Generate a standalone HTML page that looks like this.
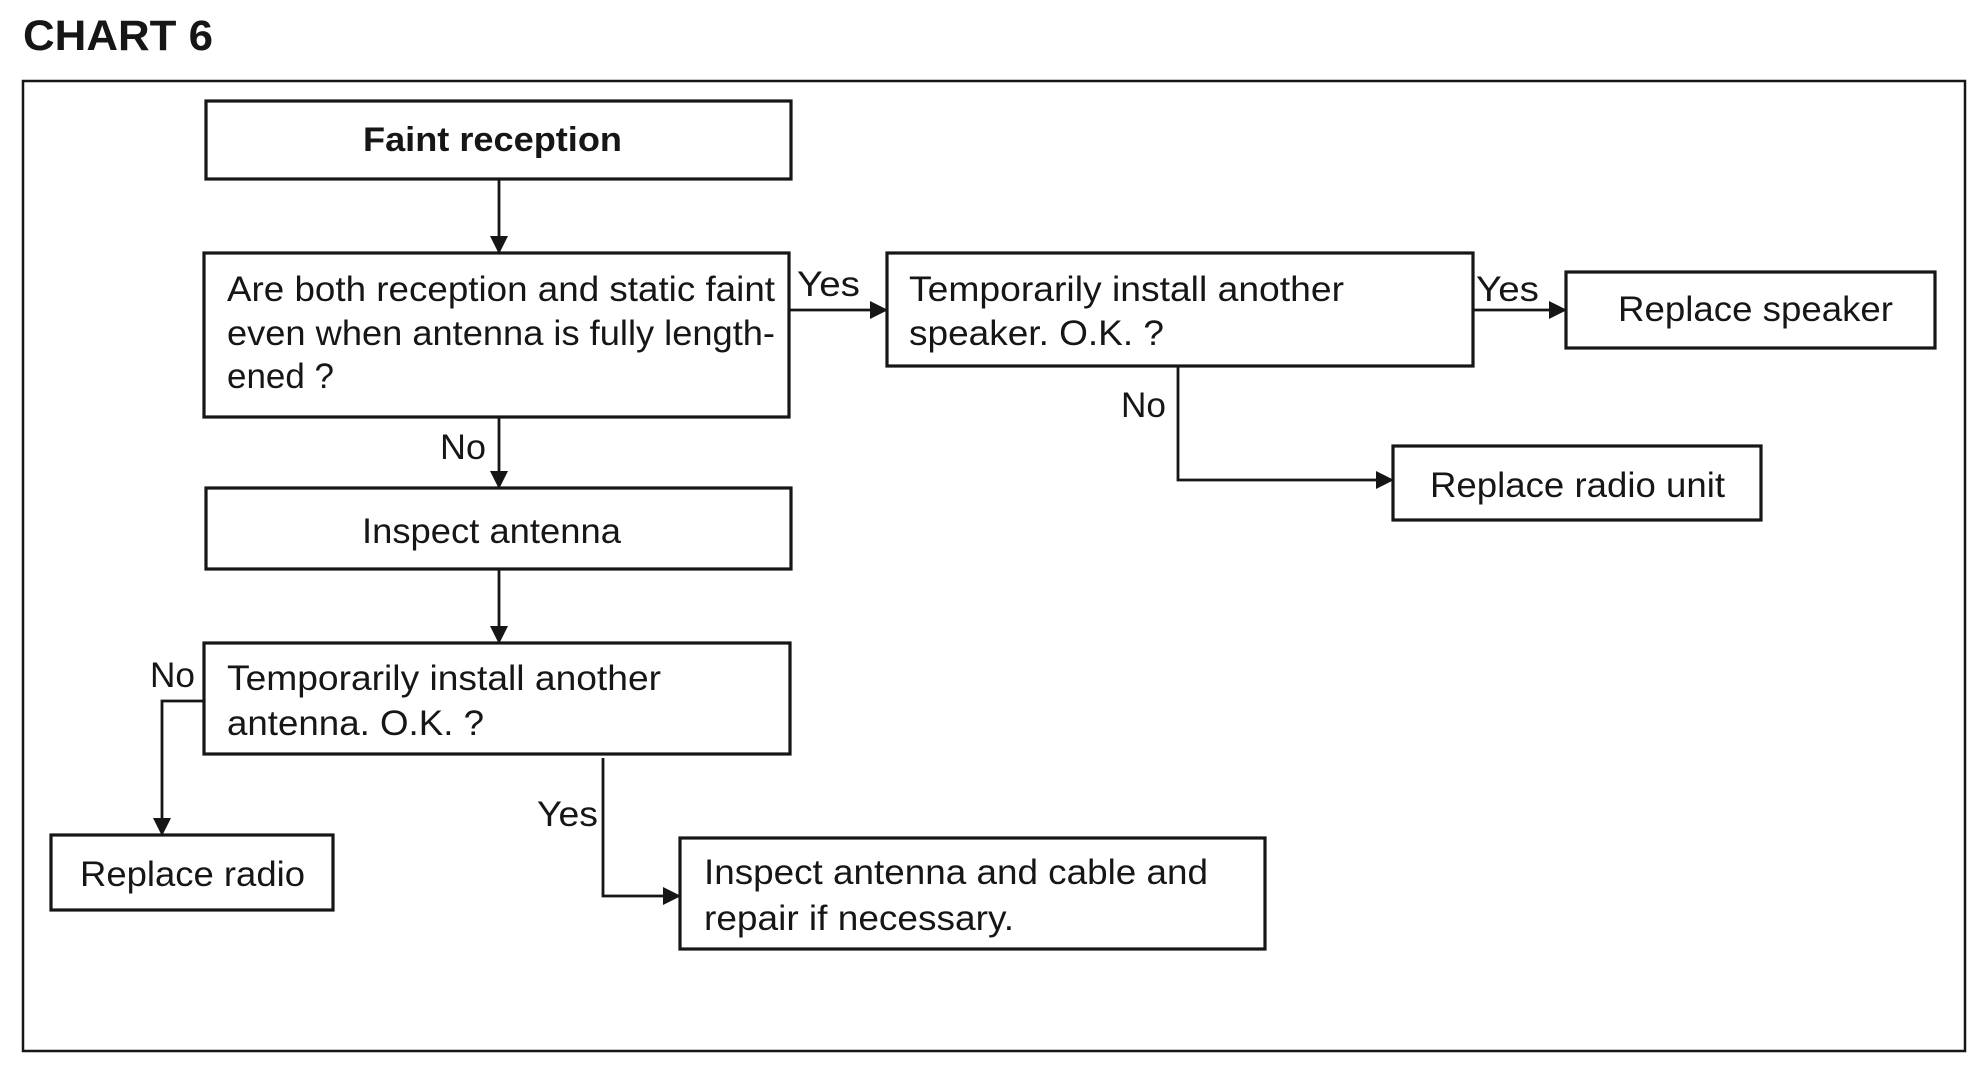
<!DOCTYPE html>
<html><head><meta charset="utf-8"><style>
html,body{margin:0;padding:0;background:#fff;width:1980px;height:1068px;overflow:hidden}
svg{display:block}
text{font-family:"Liberation Sans",Arial,sans-serif;fill:#161616;font-size:35px}
</style></head><body>
<svg width="1980" height="1068" viewBox="0 0 1980 1068" xmlns="http://www.w3.org/2000/svg">
<defs>
<marker id="b" markerWidth="18" markerHeight="18" refX="17" refY="9" orient="auto" markerUnits="userSpaceOnUse"><path d="M0,0 L18,9 L0,18 z" fill="#161616"/></marker></defs>
<text x="23" y="50" style="font-size:43px;font-weight:bold" textLength="190" lengthAdjust="spacingAndGlyphs">CHART 6</text>
<rect x="23" y="81" width="1942" height="970" fill="none" stroke="#161616" stroke-width="2.5"/>
<g fill="none" stroke="#161616" stroke-width="3.2">
<rect x="206" y="101" width="585" height="78"/>
<rect x="204" y="253" width="585" height="164"/>
<rect x="887" y="253" width="586" height="113"/>
<rect x="1566" y="272" width="369" height="76"/>
<rect x="1393" y="446" width="368" height="74"/>
<rect x="206" y="488" width="585" height="81"/>
<rect x="204" y="643" width="586" height="111"/>
<rect x="51" y="835" width="282" height="75"/>
<rect x="680" y="838" width="585" height="111"/>
</g>
<g fill="none" stroke="#161616" stroke-width="2.8" marker-end="url(#b)">
<line x1="499" y1="179" x2="499" y2="253"/>
<line x1="499" y1="417" x2="499" y2="488"/>
<line x1="499" y1="569" x2="499" y2="643"/>
<line x1="789" y1="310" x2="887" y2="310"/>
<line x1="1473" y1="310" x2="1566" y2="310"/>
<polyline points="1178,366 1178,480 1393,480"/>
<polyline points="204,701 162,701 162,835"/>
<polyline points="603,758 603,896 680,896"/>
</g>
<text x="363" y="151" style="font-weight:bold;font-size:34px" textLength="259" lengthAdjust="spacingAndGlyphs">Faint reception</text>
<text x="227" y="301" textLength="548" lengthAdjust="spacingAndGlyphs">Are both reception and static faint</text>
<text x="227" y="345" textLength="548" lengthAdjust="spacingAndGlyphs">even when antenna is fully length-</text>
<text x="227" y="388" textLength="107" lengthAdjust="spacingAndGlyphs">ened ?</text>
<text x="440" y="459" textLength="46" lengthAdjust="spacingAndGlyphs">No</text>
<text x="797" y="296" textLength="63" lengthAdjust="spacingAndGlyphs">Yes</text>
<text x="909" y="301" textLength="435" lengthAdjust="spacingAndGlyphs">Temporarily install another</text>
<text x="909" y="345" textLength="255" lengthAdjust="spacingAndGlyphs">speaker. O.K. ?</text>
<text x="1476" y="301" textLength="63" lengthAdjust="spacingAndGlyphs">Yes</text>
<text x="1618" y="321" textLength="275" lengthAdjust="spacingAndGlyphs">Replace speaker</text>
<text x="1121" y="417" textLength="45" lengthAdjust="spacingAndGlyphs">No</text>
<text x="1430" y="497" textLength="295" lengthAdjust="spacingAndGlyphs">Replace radio unit</text>
<text x="362" y="543" textLength="259" lengthAdjust="spacingAndGlyphs">Inspect antenna</text>
<text x="227" y="690" textLength="434" lengthAdjust="spacingAndGlyphs">Temporarily install another</text>
<text x="227" y="735" textLength="257" lengthAdjust="spacingAndGlyphs">antenna. O.K. ?</text>
<text x="150" y="687" textLength="45" lengthAdjust="spacingAndGlyphs">No</text>
<text x="80" y="886" textLength="225" lengthAdjust="spacingAndGlyphs">Replace radio</text>
<text x="537" y="826" textLength="61" lengthAdjust="spacingAndGlyphs">Yes</text>
<text x="704" y="884" textLength="504" lengthAdjust="spacingAndGlyphs">Inspect antenna and cable and</text>
<text x="704" y="930" textLength="310" lengthAdjust="spacingAndGlyphs">repair if necessary.</text>
</svg>
</body></html>
